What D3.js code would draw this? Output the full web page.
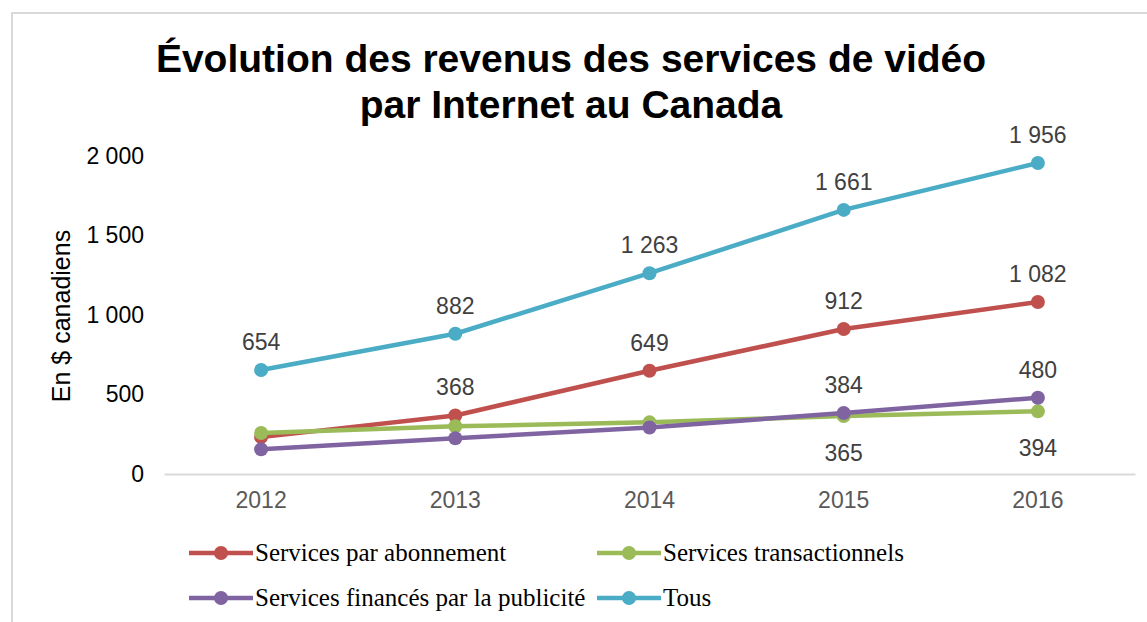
<!DOCTYPE html>
<html>
<head>
<meta charset="utf-8">
<script src="https://d3js.org/d3.v7.min.js"></script>
<style>
body { margin: 0; background: #fff; }
</style>
</head>
<body>
<div id="chart"></div>
<script>
var years = ["2012", "2013", "2014", "2015", "2016"];
var yTicks = [0, 500, 1000, 1500, 2000];

var abonnement = [232, 368, 649, 912, 1082];
var transactionnels = [258, 300, 325, 365, 394];
var publicite = [155, 225, 292, 384, 480];
var tous = [654, 882, 1263, 1661, 1956];

// which points carry a label
var abonnementLabels = [false, true, true, true, true];
var transactionnelsLabels = [false, false, false, true, true];
var publiciteLabels = [false, false, false, true, true];
var tousLabels = [true, true, true, true, true];

var series = [
	{ name: "Services par abonnement", values: abonnement, labels: abonnementLabels, color: "#C0504D", below: false },
	{ name: "Services transactionnels", values: transactionnels, labels: transactionnelsLabels, color: "#9BBB59", below: true },
	{ name: "Services financés par la publicité", values: publicite, labels: publiciteLabels, color: "#8064A2", below: false },
	{ name: "Tous", values: tous, labels: tousLabels, color: "#4BACC6", below: false }
];

var width = 1147, height = 622;

var svg = d3.select("#chart").append("svg")
	.attr("width", width)
	.attr("height", height);

// outer frame
svg.append("path")
	.attr("d", "M12," + height + "V13H" + width)
	.attr("fill", "none").attr("stroke", "#d9d9d9").attr("stroke-width", 2);

var x = d3.scaleBand().domain(years).range([164, 1135]);
var y = d3.scaleLinear().domain([0, 2000]).range([474, 156]);

var fmt = function(v) { return d3.format(",")(v).replace(/,/g, " "); };

// title
var title = svg.append("text").attr("text-anchor", "middle")
	.attr("font-family", "Liberation Sans, Arial, sans-serif")
	.attr("font-weight", "bold").attr("font-size", 39).attr("fill", "#000");
title.append("tspan").attr("x", 571).attr("y", 72).text("Évolution des revenus des services de vidéo");
title.append("tspan").attr("x", 571).attr("y", 118).text("par Internet au Canada");

// y axis
var yAxis = svg.append("g").attr("transform", "translate(148,0)")
	.call(d3.axisLeft(y).tickValues(yTicks).tickFormat(fmt).tickSize(0).tickPadding(4));
yAxis.select(".domain").remove();
yAxis.selectAll("text")
	.attr("font-family", "Liberation Sans, Arial, sans-serif")
	.attr("font-size", 23).attr("fill", "#000");

svg.append("text")
	.attr("transform", "translate(70,316) rotate(-90)")
	.attr("text-anchor", "middle")
	.attr("font-family", "Liberation Sans, Arial, sans-serif")
	.attr("font-size", 25).attr("fill", "#000")
	.text("En $ canadiens");

// x axis
var xAxis = svg.append("g").attr("transform", "translate(0," + y(0) + ")")
	.call(d3.axisBottom(x).tickSize(0).tickPadding(18));
xAxis.select(".domain").attr("stroke", "#d9d9d9").attr("stroke-width", 2);
xAxis.selectAll("text")
	.attr("font-family", "Liberation Sans, Arial, sans-serif")
	.attr("font-size", 23).attr("fill", "#595959");

var cx = function(d, i) { return x(years[i]) + x.bandwidth() / 2; };

var line = d3.line()
	.x(function(d, i) { return cx(d, i); })
	.y(function(d) { return y(d); });

series.forEach(function(s) {
	var g = svg.append("g");
	g.append("path")
		.attr("d", line(s.values))
		.attr("fill", "none")
		.attr("stroke", s.color)
		.attr("stroke-width", 4.5)
		.attr("stroke-linejoin", "round");
	g.selectAll("circle").data(s.values).enter().append("circle")
		.attr("cx", cx)
		.attr("cy", function(d) { return y(d); })
		.attr("r", 7)
		.attr("fill", s.color);
});

series.forEach(function(s) {
	svg.append("g").selectAll("text")
		.data(s.values.map(function(v, i) { return { v: v, i: i, show: s.labels[i] }; })
			.filter(function(d) { return d.show; }))
		.enter().append("text")
		.attr("x", function(d) { return cx(d.v, d.i); })
		.attr("y", function(d) { return s.below ? y(d.v) + 45 : y(d.v) - 20; })
		.attr("text-anchor", "middle")
		.attr("font-family", "Liberation Sans, Arial, sans-serif")
		.attr("font-size", 23).attr("fill", "#404040")
		.text(function(d) { return fmt(d.v); });
});

// legend
var legendPos = [[189, 553], [597, 553], [189, 598], [597, 598]];
var legend = svg.append("g").selectAll("g").data(series).enter().append("g")
	.attr("transform", function(d, i) { return "translate(" + legendPos[i][0] + "," + legendPos[i][1] + ")"; });
legend.append("line")
	.attr("x1", 0).attr("x2", 64).attr("y1", 0).attr("y2", 0)
	.attr("stroke", function(d) { return d.color; }).attr("stroke-width", 4.5);
legend.append("circle").attr("cx", 32).attr("cy", 0).attr("r", 7)
	.attr("fill", function(d) { return d.color; });
legend.append("text")
	.attr("x", 66).attr("y", 8)
	.attr("font-family", "Liberation Serif, Cambria, serif")
	.attr("font-size", 25).attr("fill", "#000")
	.text(function(d) { return d.name; });
</script>
</body>
</html>
